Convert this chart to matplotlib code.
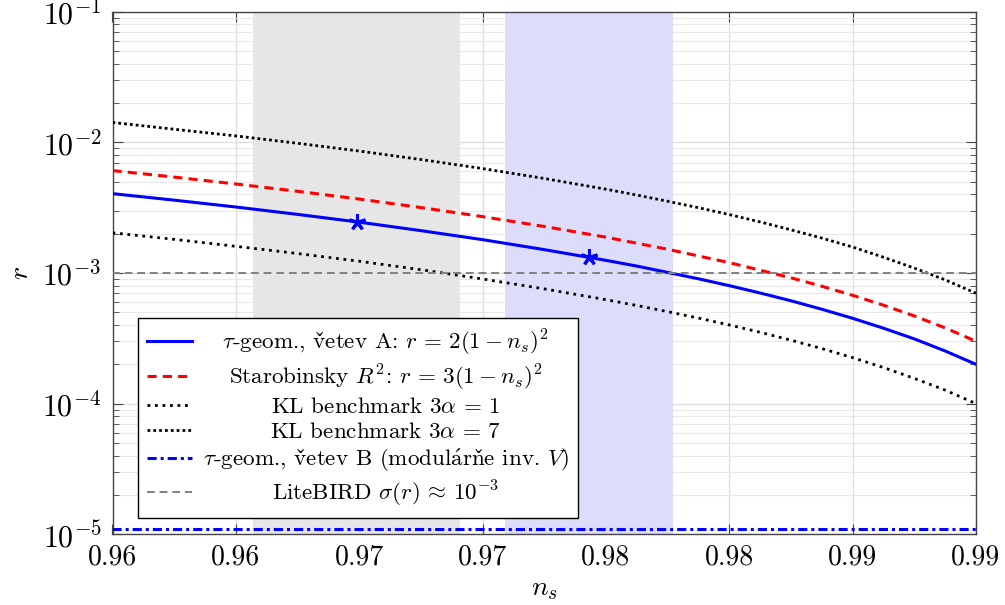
import matplotlib
matplotlib.use('Agg')
from matplotlib import pyplot as plt
from matplotlib.ticker import FixedLocator, LogLocator, NullFormatter
import numpy as np

# data
# ====
ns = [0.955, 0.9575, 0.96, 0.9625, 0.965, 0.9675, 0.97, 0.9725, 0.975,
      0.97625, 0.9775, 0.97875, 0.98, 0.98125, 0.9825, 0.98375, 0.985,
      0.98625, 0.9875, 0.98875, 0.99]
r_branch_a = [4.05e-3, 3.61e-3, 3.2e-3, 2.81e-3, 2.45e-3, 2.11e-3, 1.8e-3, 1.51e-3, 1.25e-3,
              1.13e-3, 1.01e-3, 9.03e-4, 8.0e-4, 7.03e-4, 6.13e-4, 5.28e-4, 4.5e-4,
              3.78e-4, 3.13e-4, 2.53e-4, 2.0e-4]
r_starobinsky = [6.08e-3, 5.42e-3, 4.8e-3, 4.22e-3, 3.68e-3, 3.17e-3, 2.7e-3, 2.27e-3, 1.88e-3,
                 1.69e-3, 1.52e-3, 1.35e-3, 1.2e-3, 1.05e-3, 9.19e-4, 7.92e-4, 6.75e-4,
                 5.67e-4, 4.69e-4, 3.8e-4, 3.0e-4]
r_kl1 = [2.03e-3, 1.81e-3, 1.6e-3, 1.41e-3, 1.23e-3, 1.06e-3, 9.0e-4, 7.56e-4, 6.25e-4,
         5.64e-4, 5.06e-4, 4.52e-4, 4.0e-4, 3.52e-4, 3.06e-4, 2.64e-4, 2.25e-4,
         1.89e-4, 1.56e-4, 1.27e-4, 1.0e-4]
r_kl7 = [1.42e-2, 1.26e-2, 1.12e-2, 9.84e-3, 8.58e-3, 7.39e-3, 6.3e-3, 5.29e-3, 4.38e-3,
         3.95e-3, 3.54e-3, 3.16e-3, 2.8e-3, 2.46e-3, 2.14e-3, 1.85e-3, 1.58e-3,
         1.32e-3, 1.09e-3, 8.86e-4, 7.0e-4]
r_branch_b = 1.1e-5
r_litebird = 1e-3

planck_band = (0.9607, 0.9691)
act_band = (0.9709, 0.9777)
stars_ns = [0.9649, 0.9743]
stars_r = [2.46e-3, 1.32e-3]

xtick_pos = [0.955, 0.96, 0.965, 0.97, 0.975, 0.98, 0.985, 0.99]
xtick_labels = ['0.96', '0.96', '0.97', '0.97', '0.98', '0.98', '0.99', '0.99']

labels = [r'$\tau$-geom., $\mathrm{v\check{e}tev}$ A: $r\,=\,2(1-n_s)^2$',
          r'Starobinsky $R^2$: $r\,=\,3(1-n_s)^2$',
          r'KL benchmark $3\alpha\,=\,1$',
          r'KL benchmark $3\alpha\,=\,7$',
          r'$\tau$-geom., $\mathrm{v\check{e}tev}$ B (modul$\mathrm{\acute{a}rn\check{e}}$ inv. $V$)',
          r'LiteBIRD $\sigma(r)\,\approx\,10^{-3}$']

# plotting
# ====
plt.rcParams['font.family'] = ['cmr10', 'DejaVu Serif']
plt.rcParams['mathtext.fontset'] = 'cm'
plt.rcParams['axes.formatter.use_mathtext'] = True
plt.rcParams['axes.unicode_minus'] = False

fig = plt.figure(figsize=(10.05, 6.05), dpi=100)
ax = fig.add_axes([112.5 / 1005, 1 - 534.3 / 605, 863.5 / 1005, 522.6 / 605])

ax.axvspan(*planck_band, color='#e6e6e6', lw=0, zorder=1)
ax.axvspan(*act_band, color='#dcdcfb', lw=0, zorder=1)

ax.plot(ns, r_branch_a, '-', color='blue', lw=2.2, zorder=3, label=labels[0])
ax.plot(ns, r_starobinsky, color='red', lw=2.2, ls=(0, (3, 2)), zorder=3, label=labels[1])
ax.plot(ns, r_kl1, color='black', lw=2.0, ls=(0, (1, 1.7)), zorder=3, label=labels[2])
ax.plot(ns, r_kl7, color='black', lw=2.0, ls=(0, (1, 1.1)), zorder=3, label=labels[3])
ax.plot([ns[0], ns[-1]], [r_branch_b, r_branch_b], color='blue', lw=2.2,
        ls=(0, (3, 1.3, 1, 1.3)), zorder=3, label=labels[4])
ax.plot([ns[0], ns[-1]], [r_litebird, r_litebird], color='#808080', lw=1.4,
        ls=(0, (4, 2.5)), zorder=3, label=labels[5])
ax.plot(stars_ns, stars_r, ls='none', marker=(5, 2, 0), ms=12, mew=2.2,
        color='blue', zorder=4)

ax.set_yscale('log')
ax.set_xlim(0.955, 0.99)
ax.set_ylim(1e-5, 1e-1)
ax.xaxis.set_major_locator(FixedLocator(xtick_pos))
ax.set_xticklabels(xtick_labels)
ax.yaxis.set_major_locator(LogLocator(base=10, numticks=10))
ax.yaxis.set_minor_locator(LogLocator(base=10, subs=np.arange(2, 10), numticks=20))
ax.yaxis.set_minor_formatter(NullFormatter())

ax.tick_params(which='both', direction='in', top=True, right=True,
               labelsize=20, pad=7, color='#444444')
ax.tick_params(axis='y', which='major', labelsize=21.5, pad=8)
ax.tick_params(which='major', length=7, width=0.8)
ax.tick_params(which='minor', length=4, width=0.6)
ax.set_axisbelow(True)
ax.grid(which='major', color='#dddddd', lw=0.9, zorder=0.5)
ax.grid(which='minor', axis='y', color='#e8e8e8', lw=0.8, zorder=0.5)
for s in ax.spines.values():
    s.set_color('#444444')
    s.set_linewidth(1.0)

ax.set_xlabel(r'$n_s$', fontsize=20, labelpad=4)
ax.set_ylabel(r'$r$', fontsize=20, labelpad=6)

leg = ax.legend(loc='lower left', bbox_to_anchor=(0.0295, 0.0312), borderaxespad=0,
                fontsize=16.6, fancybox=False, framealpha=1, edgecolor='black',
                handlelength=1.95, handletextpad=0.45, labelspacing=0.2,
                borderpad=0.4)
leg.get_frame().set_linewidth(1.0)
leg.set_zorder(5)

# center the legend texts in their column
fig.canvas.draw()
texts = leg.get_texts()
widths = [t.get_window_extent().width for t in texts]
wmax = max(widths)
for t, w in zip(texts, widths):
    t.set_x((wmax - w) / 2)

fig.savefig('out.png', dpi=100)
